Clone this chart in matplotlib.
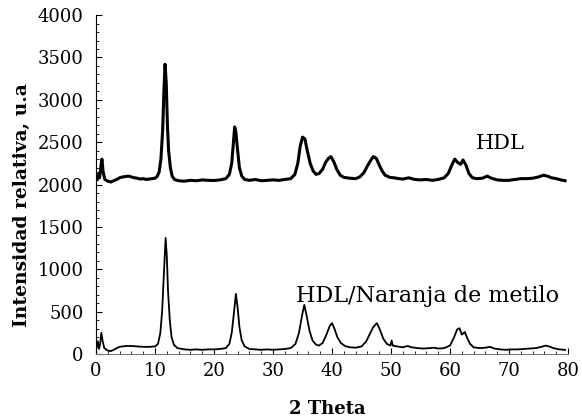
"""XRD patterns: HDL and HDL/Naranja de metilo."""

import matplotlib
matplotlib.use("Agg")
import matplotlib.pyplot as plt
from matplotlib.ticker import MultipleLocator

# HDL (offset trace)
theta_hdl = [0.2, 0.4, 0.6, 0.8, 1.0, 1.2, 1.5, 2.0, 2.5, 3.0, 3.5, 4.0, 4.5, 5.0, 5.5,
             6.0, 6.5, 7.0, 7.5, 8.0, 8.5, 9.0, 9.5, 10.0, 10.4, 10.7, 11.0, 11.3, 11.5,
             11.7, 11.9, 12.1, 12.3, 12.6, 12.9, 13.3, 14.0, 15, 16, 17, 18, 19, 20, 21,
             22, 22.6, 23.0, 23.3, 23.5, 23.7, 24.0, 24.3, 24.7, 25.2, 26, 27, 28, 29, 30,
             31, 32, 33, 33.7, 34.2, 34.6, 35.0, 35.4, 35.8, 36.3, 36.8, 37.3, 37.8, 38.4,
             38.9, 39.4, 39.8, 40.3, 40.8, 41.4, 42.0, 43, 44, 44.7, 45.4, 46.0, 46.6, 47.0,
             47.5, 48.0, 48.5, 49.0, 49.8, 50.5, 51.3, 52, 53, 54, 55, 56, 57, 58, 59, 59.7,
             60.3, 60.8, 61.3, 61.8, 62.2, 62.7, 63.2, 63.8, 64.5, 65.5, 66.3, 67, 68, 69,
             70, 71, 72, 73, 74, 75, 75.8, 76.5, 77.2, 78, 78.8, 79.5]
int_hdl = [2060, 2130, 2080, 2200, 2300, 2150, 2060, 2040, 2030, 2045, 2060, 2080, 2090,
           2095, 2100, 2090, 2080, 2075, 2065, 2070, 2060, 2065, 2070, 2075, 2100, 2150,
           2300, 2650, 3100, 3420, 3200, 2700, 2400, 2200, 2100, 2060, 2045, 2040, 2050,
           2045, 2055, 2050, 2048, 2055, 2070, 2120, 2250, 2500, 2680, 2620, 2400, 2200,
           2100, 2060, 2050, 2060, 2045, 2050, 2055, 2050, 2060, 2070, 2120, 2250, 2450,
           2560, 2540, 2400, 2250, 2160, 2120, 2130, 2180, 2260, 2310, 2330, 2270, 2180,
           2110, 2085, 2075, 2070, 2090, 2140, 2220, 2290, 2330, 2310, 2230, 2160, 2110,
           2085, 2080, 2070, 2065, 2080, 2060, 2055, 2060, 2050, 2060, 2080, 2130, 2230,
           2300, 2260, 2240, 2290, 2230, 2130, 2080, 2070, 2075, 2100, 2075, 2055, 2050,
           2050, 2060, 2070, 2070, 2075, 2090, 2110, 2100, 2080, 2070, 2055, 2045]

# HDL/Naranja de metilo
theta_mo = [0.1, 0.3, 0.5, 0.7, 0.9, 1.1, 1.4, 2.0, 2.5, 3.0, 3.5, 4.0, 5.0, 6.0, 7.0, 8.0,
            9.0, 10.0, 10.5, 10.9, 11.2, 11.5, 11.8, 12.0, 12.2, 12.5, 12.8, 13.2, 13.8, 15,
            16, 17, 18, 19, 20, 21, 22, 22.6, 23.0, 23.4, 23.7, 24.0, 24.3, 24.7, 25.2, 26,
            27, 28, 29, 30, 31, 32, 33, 33.8, 34.4, 34.9, 35.3, 35.7, 36.2, 36.7, 37.3, 37.8,
            38.4, 39.0, 39.6, 40.0, 40.4, 40.9, 41.5, 42.2, 43, 44, 45, 45.8, 46.5, 47.0,
            47.6, 48.1, 48.7, 49.3, 49.9, 50.1, 50.3, 51, 52, 52.8, 53.5, 54.5, 55.5, 56.5,
            57.3, 58, 59, 60, 60.7, 61.2, 61.6, 62.0, 62.5, 62.9, 63.4, 64, 65, 66, 66.8,
            67.5, 68.5, 69.5, 70.5, 71.5, 72.5, 73.5, 74.5, 75.5, 76.2, 76.8, 77.5, 78.5, 79.5]
int_mo = [80, 150, 60, 120, 250, 160, 70, 40, 35, 50, 70, 85, 95, 95, 90, 85, 85, 90, 120,
          250, 500, 950, 1370, 1150, 750, 400, 200, 110, 70, 55, 50, 55, 50, 55, 55, 60, 70,
          120, 250, 500, 710, 550, 320, 160, 90, 60, 55, 50, 55, 50, 55, 60, 70, 120, 250,
          450, 580, 450, 270, 160, 110, 100, 130, 220, 330, 365, 300, 200, 130, 95, 80, 75,
          90, 150, 250, 320, 365, 290, 180, 120, 100, 160, 100, 90, 80, 95, 80, 70, 65, 70,
          75, 65, 70, 100, 200, 290, 305, 230, 260, 190, 120, 80, 70, 75, 85, 65, 55, 50,
          55, 55, 60, 65, 70, 85, 100, 90, 70, 55, 50]

plt.rcParams["font.family"] = ["DejaVu Serif"]

fig = plt.figure(figsize=(5.82, 4.19), dpi=100)
ax = fig.add_axes([0.165, 0.155, 0.811, 0.809])

ax.plot(theta_hdl, int_hdl, color="black", lw=2.2)
ax.plot(theta_mo, int_mo, color="black", lw=1.3)

ax.text(64.3, 2490, "HDL", fontsize=15, va="center")
ax.text(33.9, 690, "HDL/Naranja de metilo", fontsize=16, va="center")

ax.set_xlim(0, 80)
ax.set_ylim(0, 4000)
ax.xaxis.set_major_locator(MultipleLocator(10))
ax.xaxis.set_minor_locator(MultipleLocator(2))
ax.yaxis.set_major_locator(MultipleLocator(500))
ax.yaxis.set_minor_locator(MultipleLocator(100))
ax.tick_params(which="both", direction="in", labelsize=13, colors="black")
ax.tick_params(axis="y", pad=9)
ax.tick_params(axis="x", pad=6)
ax.tick_params(which="major", length=4)
ax.tick_params(which="minor", length=2)

for s in ["top", "right"]:
    ax.spines[s].set_visible(False)
ax.spines["bottom"].set_color("#777777")

ax.set_xlabel("2 Theta", fontsize=13, fontweight="bold")
ax.set_ylabel("Intensidad relativa, u.a", fontsize=13.5, fontweight="bold")
ax.xaxis.set_label_coords(0.49, -0.135)
ax.yaxis.set_label_coords(-0.138, 0.44)

fig.savefig("out.png", dpi=100)
